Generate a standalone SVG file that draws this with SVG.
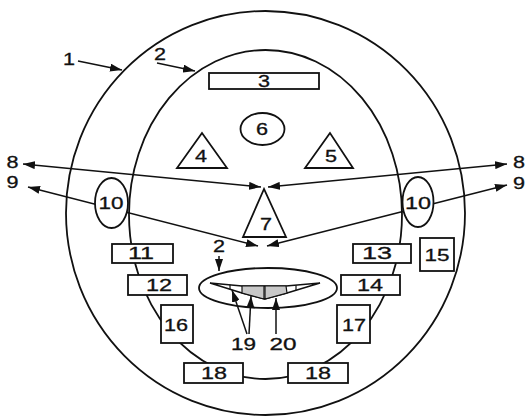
<svg xmlns="http://www.w3.org/2000/svg" width="525" height="417" viewBox="0 0 525 417">
<style>
.ln{fill:none;stroke:#111;stroke-width:1.8}
.nd{fill:#fff;stroke:#111;stroke-width:1.8}
.ar{fill:none;stroke:#111;stroke-width:1.5}
text{font-family:"Liberation Sans",Arial,sans-serif;font-size:16px;fill:#111;text-anchor:middle;stroke:#111;stroke-width:0.3}
</style>
<defs>
<marker id="ah" viewBox="0 0 12 8" markerWidth="12" markerHeight="8" refX="12" refY="4" orient="auto-start-reverse" markerUnits="userSpaceOnUse">
<path d="M0,0 L12,4 L0,8 Z" fill="#111"/>
</marker>
</defs>
<rect width="525" height="417" fill="#fff"/>
<g id="outer-head"><ellipse class="ln" cx="265.5" cy="213" rx="199.5" ry="202"/></g>
<g id="inner-face"><ellipse class="ln" cx="265.5" cy="214.5" rx="136.5" ry="164.5"/></g>
<g id="mouth">
<ellipse class="nd" cx="268" cy="288" rx="69" ry="20"/>
<polygon points="210,283 242,286 286,286 320,283 287,293 265,299 242,293" fill="#fff" stroke="#111" stroke-width="1.5"/>
<polygon points="242,286 264,286 264,299 242,293" fill="#c8c8c8" stroke="#111" stroke-width="1.2"/>
<polygon points="265,286 286,286 287,293 265,299" fill="#c8c8c8" stroke="#111" stroke-width="1.2"/>
<line x1="230" y1="284.8" x2="230" y2="289.3" stroke="#111" stroke-width="1.2"/>
<line x1="296" y1="285.2" x2="296" y2="290.2" stroke="#111" stroke-width="1.2"/>
</g>
<g id="connectors">
<line class="ar" x1="78" y1="61" x2="122" y2="70" marker-end="url(#ah)"/>
<line class="ar" x1="157" y1="63" x2="195" y2="71" marker-end="url(#ah)"/>
<line class="ar" x1="23" y1="164" x2="261" y2="187" marker-start="url(#ah)" marker-end="url(#ah)"/>
<line class="ar" x1="507" y1="164" x2="268" y2="187" marker-start="url(#ah)" marker-end="url(#ah)"/>
<line class="ar" x1="28" y1="187" x2="258" y2="246" marker-start="url(#ah)" marker-end="url(#ah)"/>
<line class="ar" x1="507" y1="185" x2="267" y2="246" marker-start="url(#ah)" marker-end="url(#ah)"/>
<line class="ar" x1="219" y1="256" x2="219" y2="271" marker-end="url(#ah)"/>
<line class="ar" x1="247" y1="334" x2="232" y2="290" marker-end="url(#ah)"/>
<line class="ar" x1="249" y1="334" x2="251" y2="296" marker-end="url(#ah)"/>
<line class="ar" x1="276" y1="334" x2="276" y2="298" marker-end="url(#ah)"/>
</g>
<g id="n3"><rect class="nd" x="209" y="73" width="110" height="16"/><text x="264" y="87" textLength="12" lengthAdjust="spacingAndGlyphs">3</text></g>
<g id="n6"><ellipse class="nd" cx="262.5" cy="129" rx="22" ry="16"/><text x="262" y="135" textLength="12" lengthAdjust="spacingAndGlyphs">6</text></g>
<g id="n4"><polygon class="nd" points="202,133 177,168 227,168"/><text x="201" y="162" textLength="12" lengthAdjust="spacingAndGlyphs">4</text></g>
<g id="n5"><polygon class="nd" points="330,133 305,168 353,168"/><text x="331" y="162" textLength="12" lengthAdjust="spacingAndGlyphs">5</text></g>
<g id="n7"><polygon class="nd" points="264,189 243,237 286,237"/><text x="266" y="230" textLength="12" lengthAdjust="spacingAndGlyphs">7</text></g>
<g id="n10L"><ellipse class="nd" cx="111.5" cy="203" rx="16.5" ry="25"/><text x="111" y="209" textLength="25" lengthAdjust="spacingAndGlyphs">10</text></g>
<g id="n10R"><ellipse class="nd" cx="418" cy="202" rx="15.5" ry="25"/><text x="418" y="209" textLength="26" lengthAdjust="spacingAndGlyphs">10</text></g>
<g id="n11"><rect class="nd" x="112" y="244" width="61" height="19"/><text x="141" y="259" textLength="26" lengthAdjust="spacingAndGlyphs">11</text></g>
<g id="n13"><rect class="nd" x="353" y="244" width="58" height="19"/><text x="377" y="259" textLength="30" lengthAdjust="spacingAndGlyphs">13</text></g>
<g id="n15"><rect class="nd" x="420" y="238" width="34" height="33"/><text x="437" y="261" textLength="25" lengthAdjust="spacingAndGlyphs">15</text></g>
<g id="n12"><rect class="nd" x="128" y="275" width="59" height="20"/><text x="159" y="291" textLength="26" lengthAdjust="spacingAndGlyphs">12</text></g>
<g id="n14"><rect class="nd" x="341" y="275" width="59" height="20"/><text x="370" y="291" textLength="26" lengthAdjust="spacingAndGlyphs">14</text></g>
<g id="n16"><rect class="nd" x="161" y="305" width="32" height="38"/><text x="176" y="331" textLength="24" lengthAdjust="spacingAndGlyphs">16</text></g>
<g id="n17"><rect class="nd" x="337" y="305" width="33" height="38"/><text x="354" y="331" textLength="24" lengthAdjust="spacingAndGlyphs">17</text></g>
<g id="n18L"><rect class="nd" x="184" y="363" width="59" height="20"/><text x="214" y="379" textLength="26" lengthAdjust="spacingAndGlyphs">18</text></g>
<g id="n18R"><rect class="nd" x="288" y="363" width="60" height="20"/><text x="318" y="379" textLength="26" lengthAdjust="spacingAndGlyphs">18</text></g>
<g id="labels">
<text x="69" y="65" textLength="12" lengthAdjust="spacingAndGlyphs">1</text>
<text x="160" y="60" textLength="12" lengthAdjust="spacingAndGlyphs">2</text>
<text x="12.5" y="168" textLength="12" lengthAdjust="spacingAndGlyphs">8</text>
<text x="12.5" y="188" textLength="12" lengthAdjust="spacingAndGlyphs">9</text>
<text x="519" y="168" textLength="12" lengthAdjust="spacingAndGlyphs">8</text>
<text x="519" y="189" textLength="12" lengthAdjust="spacingAndGlyphs">9</text>
<text x="219" y="252" textLength="12" lengthAdjust="spacingAndGlyphs">2</text>
<text x="243.5" y="350" textLength="25" lengthAdjust="spacingAndGlyphs">19</text>
<text x="283" y="350" textLength="27" lengthAdjust="spacingAndGlyphs">20</text>
</g>
</svg>
